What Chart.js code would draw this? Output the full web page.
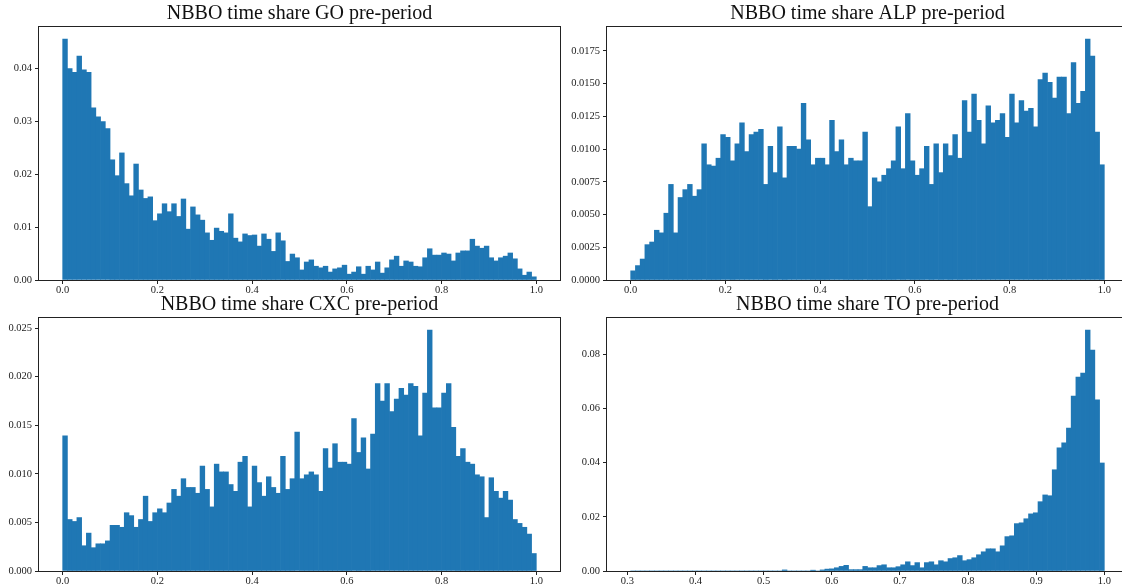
<!DOCTYPE html>
<html>
<head>
<meta charset="utf-8">
<script src="https://cdn.jsdelivr.net/npm/chart.js@4/dist/chart.umd.min.js"></script>
<style>
    html, body { margin: 0; padding: 0; background: #fff; overflow: hidden; }
    #fig { position: relative; width: 1122px; height: 588px; overflow: hidden; }
    #fig canvas { position: absolute; }
</style>
</head>
<body>
<div id="fig">
    <canvas id="goChart" width="561" height="296" style="left:0;top:0"></canvas>
    <canvas id="alpChart" width="567" height="296" style="left:561px;top:0"></canvas>
    <canvas id="cxcChart" width="561" height="297" style="left:0;top:291px"></canvas>
    <canvas id="toChart" width="567" height="297" style="left:561px;top:291px"></canvas>
</div>
<script>
// histogram bin ranges (100 bins each)
const goRange = [0.0, 1.0];
const alpRange = [0.0, 1.0];
const cxcRange = [0.0, 1.0];
const toRange = [0.3048, 1.0];

// density per bin
const goValues = [
    0.0455, 0.0399, 0.0392, 0.0423, 0.0397, 0.0392, 0.0325, 0.0308, 0.0299, 0.0286,
    0.0227, 0.0197, 0.0240, 0.0182, 0.0159, 0.0219, 0.0170, 0.0154, 0.0157, 0.0112,
    0.0125, 0.0144, 0.0129, 0.0144, 0.0120, 0.0153, 0.0096, 0.0138, 0.0123, 0.0113,
    0.0089, 0.0075, 0.0098, 0.0092, 0.0089, 0.0125, 0.0079, 0.0072, 0.0087, 0.0084,
    0.0085, 0.0064, 0.0087, 0.0077, 0.0054, 0.0089, 0.0074, 0.0035, 0.0049, 0.0042,
    0.0019, 0.0034, 0.0038, 0.0026, 0.0023, 0.0026, 0.0015, 0.0021, 0.0023, 0.0028,
    0.0011, 0.0015, 0.0025, 0.0011, 0.0026, 0.0019, 0.0034, 0.0013, 0.0023, 0.0038,
    0.0045, 0.0026, 0.0036, 0.0034, 0.0026, 0.0025, 0.0042, 0.0059, 0.0047, 0.0047,
    0.0051, 0.0049, 0.0036, 0.0051, 0.0055, 0.0055, 0.0077, 0.0064, 0.0060, 0.0064,
    0.0042, 0.0036, 0.0042, 0.0045, 0.0051, 0.0040, 0.0021, 0.0009, 0.0015, 0.0006
];
const alpValues = [
    0.0007, 0.0011, 0.0016, 0.0027, 0.0029, 0.0038, 0.0036, 0.0051, 0.0073, 0.0036,
    0.0063, 0.0069, 0.0073, 0.0064, 0.0069, 0.0104, 0.0088, 0.0087, 0.0093, 0.0111,
    0.0109, 0.0091, 0.0104, 0.0120, 0.0098, 0.0111, 0.0113, 0.0115, 0.0073, 0.0102,
    0.0082, 0.0117, 0.0078, 0.0102, 0.0102, 0.0100, 0.0135, 0.0107, 0.0088, 0.0093,
    0.0093, 0.0088, 0.0122, 0.0098, 0.0107, 0.0088, 0.0093, 0.0091, 0.0091, 0.0113,
    0.0056, 0.0078, 0.0075, 0.0080, 0.0085, 0.0091, 0.0117, 0.0085, 0.0127, 0.0091,
    0.0080, 0.0085, 0.0102, 0.0073, 0.0104, 0.0082, 0.0104, 0.0095, 0.0111, 0.0093,
    0.0137, 0.0113, 0.0142, 0.0122, 0.0104, 0.0133, 0.0120, 0.0122, 0.0127, 0.0109,
    0.0142, 0.0120, 0.0137, 0.0129, 0.0131, 0.0117, 0.0153, 0.0158, 0.0151, 0.0139,
    0.0155, 0.0155, 0.0127, 0.0166, 0.0135, 0.0144, 0.0184, 0.0171, 0.0113, 0.0088
];
const cxcValues = [
    0.0139, 0.0053, 0.0051, 0.0055, 0.0026, 0.0039, 0.0024, 0.0028, 0.0028, 0.0031,
    0.0047, 0.0047, 0.0045, 0.0060, 0.0057, 0.0045, 0.0053, 0.0077, 0.0051, 0.0060,
    0.0064, 0.0060, 0.0070, 0.0084, 0.0077, 0.0095, 0.0086, 0.0086, 0.0080, 0.0108,
    0.0084, 0.0066, 0.0110, 0.0102, 0.0102, 0.0089, 0.0082, 0.0112, 0.0118, 0.0066,
    0.0108, 0.0091, 0.0077, 0.0097, 0.0086, 0.0080, 0.0118, 0.0084, 0.0095, 0.0143,
    0.0095, 0.0099, 0.0102, 0.0099, 0.0082, 0.0126, 0.0106, 0.0131, 0.0112, 0.0112,
    0.0110, 0.0157, 0.0122, 0.0137, 0.0105, 0.0141, 0.0193, 0.0175, 0.0193, 0.0164,
    0.0177, 0.0188, 0.0181, 0.0193, 0.0190, 0.0139, 0.0183, 0.0248, 0.0168, 0.0168,
    0.0183, 0.0193, 0.0148, 0.0118, 0.0126, 0.0112, 0.0110, 0.0099, 0.0097, 0.0055,
    0.0096, 0.0082, 0.0075, 0.0082, 0.0073, 0.0053, 0.0049, 0.0045, 0.0038, 0.0018
];
const toValues = [
    0, 0, 0, 0, 0, 0, 0, 0, 0, 0,
    0, 0, 0, 0, 0, 0, 0, 0, 0, 0,
    0, 0, 0, 0, 0, 0, 0, 0, 0, 0,
    0, 0, 0.0004, 0, 0, 0, 0, 0, 0.0003, 0,
    0.0004, 0.0007, 0.0008, 0.0012, 0.0017, 0.0021, 0.0005, 0.0005, 0.0005, 0.0017,
    0.0012, 0.0012, 0.0020, 0.0023, 0.0012, 0.0012, 0.0016, 0.0023, 0.0034, 0.0020,
    0.0031, 0.0012, 0.0031, 0.0034, 0.0023, 0.0038, 0.0034, 0.0046, 0.0049, 0.0057,
    0.0038, 0.0042, 0.0049, 0.0060, 0.0071, 0.0082, 0.0082, 0.0071, 0.0093, 0.0127,
    0.0130, 0.0175, 0.0178, 0.0193, 0.0211, 0.0215, 0.0256, 0.0281, 0.0278, 0.0374,
    0.0455, 0.0473, 0.0528, 0.0646, 0.0716, 0.0731, 0.0890, 0.0816, 0.0632, 0.0399
];

// tick labels
const shareTicks = [0.0, 0.2, 0.4, 0.6, 0.8, 1.0];
const toTicks = [0.3, 0.4, 0.5, 0.6, 0.7, 0.8, 0.9, 1.0];
const goYTicks = [0.00, 0.01, 0.02, 0.03, 0.04];
const alpYTicks = [0.0000, 0.0025, 0.0050, 0.0075, 0.0100, 0.0125, 0.0150, 0.0175];
const cxcYTicks = [0.000, 0.005, 0.010, 0.015, 0.020, 0.025];
const toYTicks = [0.00, 0.02, 0.04, 0.06, 0.08];

const barColor = "#1f77b4";
const inkColor = "#222";
const tickFont = { family: "Liberation Serif", size: 10.5 };

// matplotlib-like box round the plot area
const framePlugin = {
    id: "frame",
    afterDatasetsDraw(chart) {
        const { ctx, chartArea: a } = chart;
        ctx.save();
        ctx.strokeStyle = inkColor;
        ctx.lineWidth = 1;
        ctx.strokeRect(a.left - 0.5, a.top - 0.5, a.right - a.left + 1, a.bottom - a.top + 1);
        ctx.restore();
    }
};

function drawHist(id, title, range, values, xTicks, xDigits, yTicks, yDigits, yAxisWidth, xAxisHeight, padRight) {
    const lo = range[0], hi = range[1];
    const step = (hi - lo) / values.length;
    const points = values.map((v, i) => ({ x: lo + (i + 0.5) * step, y: v }));
    const margin = 0.05 * (hi - lo);

    new Chart(document.getElementById(id), {
        type: "bar",
        data: {
            datasets: [{
                data: points,
                backgroundColor: barColor,
                borderWidth: 0,
                barPercentage: 1,
                categoryPercentage: 1
            }]
        },
        options: {
            responsive: false,
            animation: false,
            devicePixelRatio: 1,
            layout: { padding: { left: 0, right: padRight, top: 0, bottom: 0 } },
            plugins: {
                legend: { display: false },
                tooltip: { enabled: false },
                title: {
                    display: true,
                    fullSize: false,
                    text: title,
                    color: "#111",
                    font: { family: "Liberation Serif", size: 20, weight: "normal" },
                    padding: { top: 2, bottom: 1 }
                }
            },
            scales: {
                x: {
                    type: "linear",
                    offset: false,
                    min: lo - margin,
                    max: hi + margin,
                    afterBuildTicks: s => { s.ticks = xTicks.map(v => ({ value: v })); },
                    afterFit: s => { s.height = xAxisHeight; },
                    grid: { offset: false, drawOnChartArea: false, drawTicks: true, tickLength: 4, color: inkColor },
                    border: { display: false },
                    ticks: {
                        padding: 0,
                        color: inkColor,
                        font: tickFont,
                        maxRotation: 0,
                        autoSkip: false,
                        callback: v => Number(v).toFixed(xDigits)
                    }
                },
                y: {
                    min: 0,
                    max: Math.max(...values) * 1.05,
                    afterBuildTicks: s => { s.ticks = yTicks.map(v => ({ value: v })); },
                    afterFit: s => { s.width = yAxisWidth; },
                    grid: { offset: false, drawOnChartArea: false, drawTicks: true, tickLength: 4, color: inkColor },
                    border: { display: false },
                    ticks: {
                        padding: 3,
                        color: inkColor,
                        font: tickFont,
                        autoSkip: false,
                        callback: v => Number(v).toFixed(yDigits)
                    }
                }
            }
        },
        plugins: [framePlugin]
    });
}

drawHist("goChart", "NBBO time share GO pre-period", goRange, goValues, shareTicks, 1, goYTicks, 2, 39, 16, 1);
drawHist("alpChart", "NBBO time share ALP pre-period", alpRange, alpValues, shareTicks, 1, alpYTicks, 4, 46, 16, 0);
drawHist("cxcChart", "NBBO time share CXC pre-period", cxcRange, cxcValues, shareTicks, 1, cxcYTicks, 3, 39, 17, 1);
drawHist("toChart", "NBBO time share TO pre-period", toRange, toValues, toTicks, 1, toYTicks, 2, 46, 17, 0);
</script>
</body>
</html>
